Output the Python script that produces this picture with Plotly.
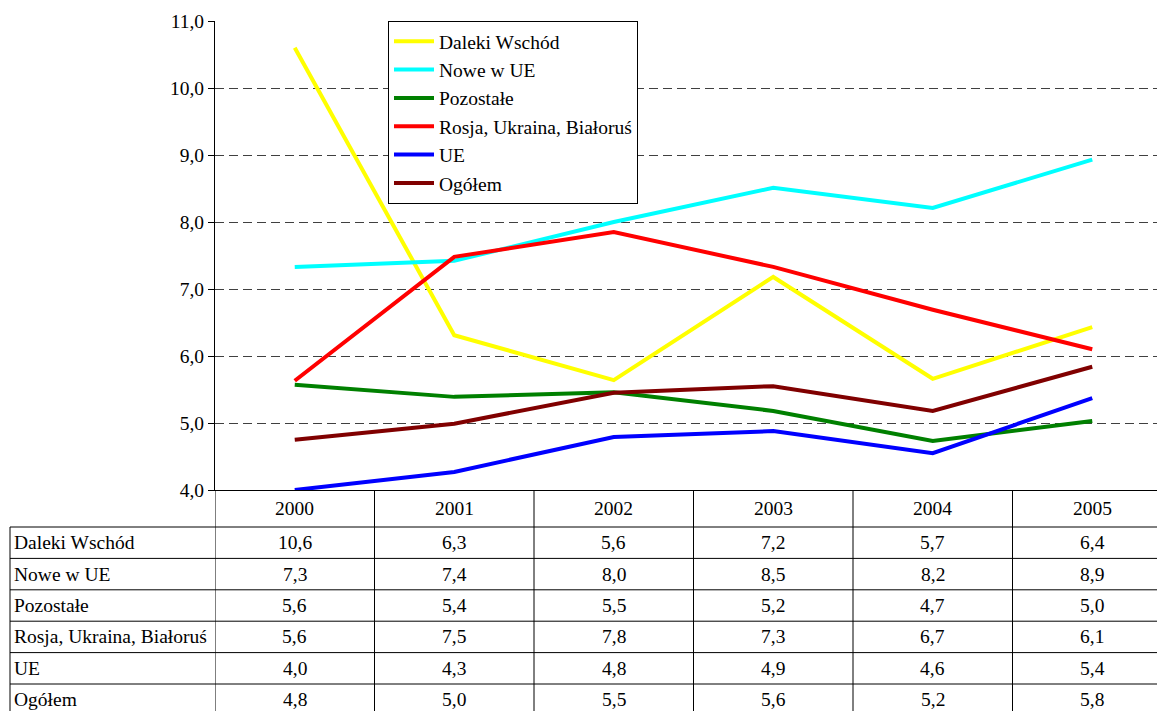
import plotly.graph_objects as go

years = ["2000", "2001", "2002", "2003", "2004", "2005"]
series_names = ["Daleki Wschód", "Nowe w UE", "Pozostałe", "Rosja, Ukraina, Białoruś", "UE", "Ogółem"]
daleki_wschod = [10.60, 6.31, 5.64, 7.18, 5.66, 6.43]
nowe_w_ue = [7.33, 7.42, 8.00, 8.51, 8.21, 8.93]
pozostale = [5.57, 5.39, 5.46, 5.18, 4.73, 5.03]
rosja = [5.63, 7.48, 7.85, 7.33, 6.69, 6.10]
ue = [4.00, 4.27, 4.79, 4.88, 4.55, 5.37]
ogolem = [4.75, 4.99, 5.45, 5.55, 5.18, 5.84]
series_values = [daleki_wschod, nowe_w_ue, pozostale, rosja, ue, ogolem]
colors = ["#FFFF00", "#00FFFF", "#008000", "#FF0000", "#0000FF", "#800000"]

table_daleki = ["10,6", "6,3", "5,6", "7,2", "5,7", "6,4"]
table_nowe = ["7,3", "7,4", "8,0", "8,5", "8,2", "8,9"]
table_pozostale = ["5,6", "5,4", "5,5", "5,2", "4,7", "5,0"]
table_rosja = ["5,6", "7,5", "7,8", "7,3", "6,7", "6,1"]
table_ue = ["4,0", "4,3", "4,8", "4,9", "4,6", "5,4"]
table_ogolem = ["4,8", "5,0", "5,5", "5,6", "5,2", "5,8"]
table_rows = [table_daleki, table_nowe, table_pozostale, table_rosja, table_ue, table_ogolem]

W, H = 1157, 711
L, T, B = 215, 21, 221
plot_h = H - T - B
plot_w = W - L
col_w = 159.5
x_max = -0.5 + plot_w / col_w

FONT = "Liberation Serif, Times New Roman, serif"
FS = 19.5

fig = go.Figure()
for name, vals, c in zip(series_names, series_values, colors):
    fig.add_trace(go.Scatter(x=list(range(len(years))), y=vals, mode="lines", name=name,
                             line=dict(color=c, width=4)))

def py(pix):
    return (H - B - pix) / plot_h

def px(pix):
    return (pix - L) / plot_w

shapes = []
annotations = []
axis_bottom = H - B
header_h = 37
row_h = 31.4
row_tops = [axis_bottom + header_h + i * row_h for i in range(len(table_rows) + 1)]
for yt in row_tops:
    shapes.append(dict(type="line", xref="paper", yref="paper", x0=px(10), x1=1,
                       y0=py(yt), y1=py(yt), line=dict(color="black", width=1)))
for k in range(len(years) + 1):
    shapes.append(dict(type="line", xref="x", yref="paper", x0=k - 0.5, x1=k - 0.5,
                       y0=py(axis_bottom), y1=py(H + 5), line=dict(color="black", width=1)))
shapes.append(dict(type="line", xref="paper", yref="paper", x0=px(10), x1=px(10),
                   y0=py(row_tops[0]), y1=py(H + 5), line=dict(color="black", width=1)))

for i, yr in enumerate(years):
    annotations.append(dict(x=i, y=py(axis_bottom + header_h / 2), xref="x", yref="paper",
                            text=yr, showarrow=False, font=dict(size=FS, color="black", family=FONT),
                            xanchor="center", yanchor="middle"))
for r, (name, row) in enumerate(zip(series_names, table_rows)):
    yc = py(row_tops[r] + row_h / 2)
    annotations.append(dict(x=px(12), y=yc, xref="paper", yref="paper", text=name, showarrow=False,
                            font=dict(size=FS, color="black", family=FONT), xanchor="left", yanchor="middle"))
    for i, v in enumerate(row):
        annotations.append(dict(x=i, y=yc, xref="x", yref="paper", text=v, showarrow=False,
                                font=dict(size=FS, color="black", family=FONT),
                                xanchor="center", yanchor="middle"))

fig.update_layout(
    width=W, height=H,
    margin=dict(l=L, r=0, t=T, b=B, pad=0),
    paper_bgcolor="white", plot_bgcolor="white",
    separators=", ",
    font=dict(family=FONT, size=FS, color="black"),
    showlegend=True,
    legend=dict(x=px(388), y=py(21), xanchor="left", yanchor="top",
                bordercolor="black", borderwidth=1, bgcolor="white",
                font=dict(size=FS, family=FONT, color="black"),
                tracegroupgap=0, itemwidth=40),
    xaxis=dict(range=[-0.5, x_max], showticklabels=False, showgrid=False, zeroline=False,
               showline=True, linecolor="black", linewidth=1, ticks="", fixedrange=True),
    yaxis=dict(range=[4, 11], dtick=1, tick0=4, tickformat=".1f", showgrid=True,
               gridcolor="#404040", griddash="9px,5px", gridwidth=1, zeroline=False,
               showline=True, linecolor="black", linewidth=1, ticks="outside", ticklen=6,
               tickcolor="black", tickfont=dict(size=FS, family=FONT, color="black"),
               fixedrange=True),
    shapes=shapes, annotations=annotations,
)

fig.write_html("out.html", config={"displayModeBar": False},
               post_script="document.body.style.margin='0';")
